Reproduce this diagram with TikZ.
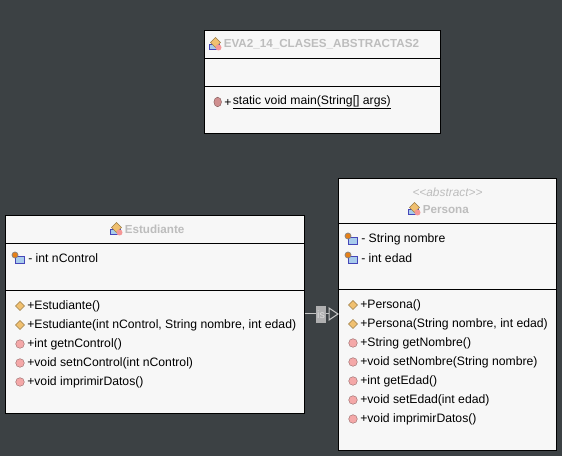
\documentclass[tikz,border=0pt]{standalone}
\usepackage{fontspec}
\setmainfont{Liberation Sans}
\definecolor{bgdark}{HTML}{3C4144}
\definecolor{boxfill}{HTML}{F7F7F7}
\definecolor{titlegray}{HTML}{BDBDBD}
\definecolor{linegray}{HTML}{C4C4C4}
\definecolor{methred}{HTML}{F4A8A8}
\definecolor{ctorgold}{HTML}{F0C070}
\definecolor{fieldblue}{HTML}{A8CCEC}
\tikzset{
  x=0.75pt,y=-0.75pt,
  classbox/.style={draw=black,fill=boxfill,line width=0.75pt},
  member/.style={anchor=west,inner sep=0pt,font=\fontsize{9.15pt}{10pt}\selectfont,text=black},
  classtitle/.style={anchor=west,inner sep=0pt,font=\fontsize{8.75pt}{10pt}\selectfont\bfseries,text=titlegray},
  stereo/.style={inner sep=0pt,font=\fontsize{8.9pt}{10pt}\selectfont\itshape,text=titlegray},
  divider/.style={line width=0.75pt,draw=black},
  inherit/.style={draw=linegray,line width=0.75pt},
  isbox/.style={fill=linegray!85!bgdark,inner sep=0pt,minimum width=7.5pt,minimum height=12.5pt,font=\fontsize{8pt}{8pt}\selectfont,text=linegray!60!white},
  triangletip/.style={draw=linegray,fill=bgdark,line width=0.75pt},
}
% small icons
\newcommand{\methicon}[2]{\fill[methred,draw=methred!60!black,line width=0.3pt] (#1,#2) circle (4.3);}
\newcommand{\staticon}[2]{\fill[methred!85!black,draw=methred!50!black,line width=0.3pt] (#1,#2) ellipse (3.8 and 4.8);}
\newcommand{\ctoricon}[2]{\fill[ctorgold,draw=ctorgold!65!black,line width=0.3pt] (#1-4.5,#2) -- (#1,#2-4.5) -- (#1+4.5,#2) -- (#1,#2+4.5) -- cycle;}
\newcommand{\fieldicon}[2]{
  \fill[fieldblue,draw=blue!45!gray,line width=0.3pt] (#1-1,#2-1) rectangle (#1+8,#2+6);
  \fill[orange!60!brown,draw=gray,line width=0.5pt] (#1-1,#2-2) circle (3);
}
\newcommand{\classicon}[2]{
  \fill[fieldblue,draw=blue!45!gray,line width=0.3pt] (#1-6,#2) rectangle (#1+4,#2+5.5);
  \fill[ctorgold,draw=ctorgold!65!black,line width=0.3pt] (#1-4.5,#2-1.5) -- (#1+0.5,#2-6.5) -- (#1+5.5,#2-1.5) -- (#1+0.5,#2+3.5) -- cycle;
  \fill[methred!90!red] (#1+3.5,#2+3.5) circle (3);
}
\begin{document}
\begin{tikzpicture}
	\useasboundingbox (0,0) rectangle (562,456);
	\fill[bgdark] (0,0) rectangle (562,456);

	% EVA2 class
	\draw[classbox] (204,30.5) rectangle (440.5,133.5);
	\draw[divider] (204,58.5) -- (440.5,58.5);
	\draw[divider] (204,86.5) -- (440.5,86.5);
	\classicon{215}{44}
	\node[classtitle] (mainname) at (223.5,44.5) {EVA2\_14\_CLASES\_ABSTRACTAS2};
	\staticon{217.7}{102}
	\node[member] (mainplus) at (224,102.5) {+};
	\node[member] (mainmeth) at (232.5,102.5) {\underline{static void main(String[] args)}};

	% Estudiante class
	\draw[classbox] (5.5,215.5) rectangle (304.5,413.5);
	\draw[divider] (5.5,243.5) -- (304.5,243.5);
	\draw[divider] (5.5,290.5) -- (304.5,290.5);
	\classicon{116}{229}
	\node[classtitle] (estname) at (124.5,229.5) {Estudiante};
	\fieldicon{16}{257}
	\node[member] (estf) at (28,258.5) {- int nControl};
	\ctoricon{20}{306}
	\node[member] (este1) at (27,306) {+Estudiante()};
	\ctoricon{20}{325}
	\node[member] (este2) at (27,325) {+Estudiante(int nControl, String nombre, int edad)};
	\methicon{20}{344}
	\node[member] (este3) at (27,344) {+int getnControl()};
	\methicon{20}{363}
	\node[member] (este4) at (27,363) {+void setnControl(int nControl)};
	\methicon{20}{382}
	\node[member] (este5) at (27,382) {+void imprimirDatos()};

	% Persona class
	\draw[classbox] (338.5,178.5) rectangle (556.5,450.5);
	\draw[divider] (338.5,223.5) -- (556.5,223.5);
	\draw[divider] (338.5,289.5) -- (556.5,289.5);
	\node[stereo] (perstereo) at (447.5,192.5) {<{}<abstract>{}>};
	\classicon{414}{209}
	\node[classtitle] (pername) at (422.5,209.5) {Persona};
	\fieldicon{349}{238}
	\node[member] (perf1) at (361,239.5) {- String nombre};
	\fieldicon{349}{257}
	\node[member] (perf2) at (361,258) {- int edad};
	\ctoricon{353}{305}
	\node[member] (perm1) at (360,305.5) {+Persona()};
	\ctoricon{353}{324}
	\node[member] (perm2) at (360,324.5) {+Persona(String nombre, int edad)};
	\methicon{353}{343}
	\node[member] (perm3) at (360,343.5) {+String getNombre()};
	\methicon{353}{362}
	\node[member] (perm4) at (360,362.5) {+void setNombre(String nombre)};
	\methicon{353}{381}
	\node[member] (perm5) at (360,381.5) {+int getEdad()};
	\methicon{353}{400}
	\node[member] (perm6) at (360,400.5) {+void setEdad(int edad)};
	\methicon{353}{419}
	\node[member] (perm7) at (360,419.5) {+void imprimirDatos()};

	% inheritance
	\coordinate (inhstart) at (304.5,314);
	\coordinate (inhend) at (329,314);
	\draw[inherit] (inhstart) -- (inhend);
	\node[isbox] (inhis) at (321,314.5) {is};
	\draw[triangletip] (329,308) -- (338,314) -- (329,320) -- cycle;
\end{tikzpicture}
\end{document}
